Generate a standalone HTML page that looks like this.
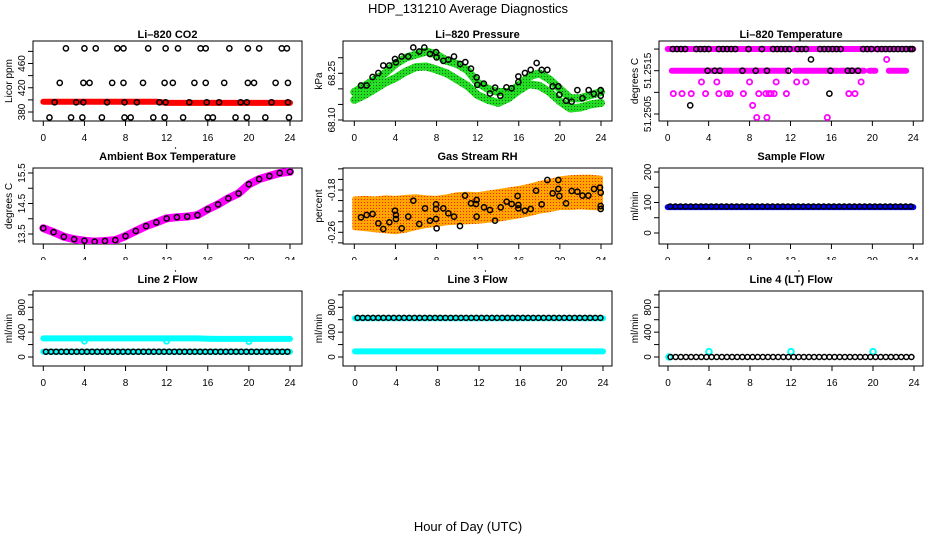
<!DOCTYPE html>
<html><head><meta charset="utf-8"><style>
html,body{margin:0;padding:0;background:#fff;}
svg{display:block;font-family:"Liberation Sans",Arial,sans-serif;}
</style></head><body>
<svg id="chart" width="936" height="540" viewBox="0 0 936 540" xmlns="http://www.w3.org/2000/svg">
<defs>
<pattern id="orangeDots" width="3" height="3" patternUnits="userSpaceOnUse"><rect width="3" height="3" fill="#ffa500"/><rect x="1" y="1" width="1" height="1" fill="#ff2200"/></pattern>
<pattern id="greenDots" width="3" height="3" patternUnits="userSpaceOnUse"><rect width="3" height="3" fill="#22dd22"/><rect x="1" y="1" width="1" height="1" fill="#116611"/></pattern>
</defs>
<rect x="0" y="0" width="936" height="540" fill="#fff"/>
<text x="468" y="13" text-anchor="middle" font-size="13">HDP_131210  Average Diagnostics</text>
<text x="468" y="531" text-anchor="middle" font-size="13">Hour of Day (UTC)</text>
</svg>
<script>
// ---------- data ----------
const xTickVals = [0,4,8,12,16,20,24];
const hours = [0,1,2,3,4,5,6,7,8,9,10,11,12,13,14,15,16,17,18,19,20,21,22,23,24];

// CO2
const co2RedVals = [397,397,397,397,397,397,397,397,397,397,397,397,395,395,395,395,395,395,395,395,395,395,395,395,395];
const co2BlackT = [2.2,4.0,5.1,7.2,7.8,10.2,11.9,13.1,15.3,15.8,18.1,19.9,21.0,23.2,23.7,
  1.6,3.9,4.5,6.7,7.8,9.7,11.8,12.6,14.7,15.8,17.6,19.9,20.5,22.6,23.8,
  1.1,3.2,3.9,6.2,7.9,9.1,11.3,11.9,14.2,15.9,17.1,19.2,19.8,22.2,23.8,
  0.6,2.7,3.8,5.7,7.9,8.5,10.7,11.8,13.6,16.0,16.5,18.7,19.8,21.6,23.9];
const co2BlackV = [485,485,485,485,485,485,485,485,485,485,485,485,485,485,485,
  428,428,428,428,428,428,428,428,428,428,428,428,428,428,428,
  396,396,396,396,396,396,396,396,396,396,396,396,396,396,396,
  371,371,371,371,371,371,371,371,371,371,371,371,371,371,371];
const co2Ticks = [380,400,420,440,460,480];
const co2Labels = ['380','','420','','460',''];

// Pressure
const presUpper = [68.19,68.21,68.23,68.25,68.28,68.30,68.31,68.32,68.31,68.29,68.28,68.26,68.22,68.20,68.19,68.19,68.21,68.24,68.25,68.23,68.20,68.17,68.17,68.18,68.19];
const presLower = [68.165,68.18,68.20,68.22,68.235,68.255,68.27,68.272,68.262,68.25,68.23,68.21,68.18,68.165,68.155,68.17,68.195,68.215,68.21,68.19,68.16,68.137,68.14,68.15,68.155];
const presBlackT = [0.65,1.2,1.78,2.34,2.82,3.4,3.96,4.05,4.6,5.25,5.74,6.32,6.81,7.36,7.95,8.0,8.66,9.15,9.7,10.3,10.8,11.35,11.9,11.97,12.6,13.2,13.7,14.2,14.8,15.3,15.96,15.96,16.6,17.16,17.74,18.23,18.78,19.3,19.85,19.95,20.6,21.15,21.7,22.2,22.8,23.3,23.97,23.97];
const presBlackV = [68.211,68.211,68.238,68.251,68.275,68.275,68.296,68.285,68.304,68.304,68.333,68.320,68.333,68.312,68.318,68.301,68.290,68.294,68.304,68.280,68.286,68.265,68.237,68.213,68.217,68.185,68.204,68.178,68.205,68.202,68.240,68.222,68.251,68.261,68.283,68.261,68.261,68.208,68.208,68.181,68.162,68.159,68.196,68.170,68.196,68.184,68.196,68.178];
const presTicks = [68.10,68.15,68.20,68.25,68.30];
const presLabels = ['68.10','','','68.25',''];

// Li-820 temperature
const tTopStart = [0.0];
const tTopEnd = [24.0];
const tMidStart = [0.4,9.8,12.4,16.8,19.7,21.6];
const tMidEnd = [9.6,11.6,16.6,19.2,20.3,23.3];
const tMagT = [21.4,3.3,4.8,8.0,10.6,12.6,13.5,18.9,0.55,1.4,2.3,3.7,5.0,5.8,6.1,7.4,8.9,9.6,9.9,10.1,10.4,11.6,17.7,18.3,8.3,8.7,9.7,15.6];
const tMagV = [51.25176,51.25124,51.25124,51.25124,51.25124,51.25124,51.25124,51.25124,51.25097,51.25097,51.25097,51.25097,51.25097,51.25097,51.25097,51.25097,51.25097,51.25097,51.25097,51.25097,51.25097,51.25097,51.25097,51.25097,51.2507,51.25042,51.25042,51.25042];
const tBlackT = [0.5,0.9,1.3,1.7,2.8,3.2,3.6,4.0,5.0,5.4,5.8,6.2,6.6,7.9,9.2,10.3,10.7,11.1,11.5,11.9,12.7,13.1,13.5,14.9,15.3,15.7,16.1,16.5,16.9,19.1,19.5,19.9,20.5,20.9,21.3,21.7,22.1,22.5,22.9,23.3,23.7,23.9,
  3.9,4.6,5.1,7.3,8.6,9.7,11.8,15.9,17.6,18.0,18.6,14.0,15.8,2.2];
const tBlackV = [51.252,51.252,51.252,51.252,51.252,51.252,51.252,51.252,51.252,51.252,51.252,51.252,51.252,51.252,51.252,51.252,51.252,51.252,51.252,51.252,51.252,51.252,51.252,51.252,51.252,51.252,51.252,51.252,51.252,51.252,51.252,51.252,51.252,51.252,51.252,51.252,51.252,51.252,51.252,51.252,51.252,51.252,
  51.2515,51.2515,51.2515,51.2515,51.2515,51.2515,51.2515,51.2515,51.2515,51.2515,51.2515,51.25176,51.25097,51.2507];
const tTicks = [51.2505,51.251,51.2515,51.252];
const tLabels = ['51.2505','','51.2515',''];

// Ambient box temperature
const ambVals = [13.69,13.56,13.41,13.33,13.28,13.25,13.27,13.30,13.43,13.60,13.76,13.88,14.01,14.05,14.07,14.12,14.31,14.47,14.67,14.83,15.13,15.30,15.40,15.50,15.54];
const ambTicks = [13.5,14.0,14.5,15.0,15.5];
const ambLabels = ['13.5','','14.5','','15.5'];

// Gas stream RH
const rhUpper = [-0.196,-0.195,-0.196,-0.194,-0.195,-0.193,-0.192,-0.194,-0.195,-0.192,-0.188,-0.187,-0.188,-0.185,-0.182,-0.179,-0.176,-0.172,-0.167,-0.163,-0.158,-0.156,-0.155,-0.155,-0.157];
const rhLower = [-0.252,-0.254,-0.256,-0.258,-0.260,-0.257,-0.252,-0.248,-0.246,-0.243,-0.242,-0.241,-0.240,-0.238,-0.236,-0.233,-0.230,-0.226,-0.221,-0.218,-0.214,-0.214,-0.213,-0.214,-0.215];
const rhBlackT = [0.65,1.2,1.78,2.34,2.82,3.41,3.96,4.05,4.05,4.61,5.25,5.74,6.32,6.88,7.36,7.95,7.95,7.95,8.01,8.66,9.15,9.7,10.28,10.77,11.35,11.84,11.9,11.9,12.62,13.2,13.69,14.24,14.82,15.31,15.89,15.96,15.96,16.6,17.16,17.68,18.23,18.78,19.3,19.85,19.85,19.95,20.6,21.15,21.7,22.2,22.77,23.32,23.9,23.97,23.97,23.97];
const rhBlackV = [-0.2317,-0.2273,-0.2254,-0.2430,-0.2537,-0.2411,-0.2191,-0.2273,-0.2348,-0.2525,-0.2304,-0.2002,-0.2443,-0.2147,-0.2380,-0.2071,-0.2159,-0.2348,-0.2525,-0.2147,-0.2241,-0.2304,-0.2481,-0.1907,-0.2052,-0.2065,-0.1989,-0.2304,-0.2128,-0.2178,-0.2380,-0.2128,-0.2021,-0.2065,-0.1913,-0.2147,-0.2084,-0.2191,-0.2159,-0.1813,-0.2071,-0.1611,-0.1863,-0.1611,-0.1781,-0.1913,-0.2052,-0.1819,-0.1832,-0.1907,-0.1907,-0.1781,-0.1756,-0.1850,-0.2103,-0.2159];
const rhTicks = [-0.28,-0.26,-0.24,-0.22,-0.20,-0.18,-0.16,-0.14];
const rhLabels = ['','-0.26','','','','-0.18','',''];

// Flows
const sampBlue = [85,85,85,85,85,85,85,85,85,85,85,85,85,85,85,85,85,85,85,85,85,85,85,85,85];
const sampBlack = [87,87,87,87,87,87,87,87,87,87,87,87,87,87,87,87,87,87,87,87,87,87,87,87,87,87,87,87,87,87,87,87,87,87,87,87,87,87,87,87,87,87,87,87,87,87,87,87];
const sampTicks = [0,50,100,150,200];
const sampLabels = ['0','','100','','200'];

const l2CyanHi = [300,300,300,300,300,300,300,300,300,300,300,300,300,300,300,300,295,292,292,292,292,292,292,292,292];
const l2CyanLo = [85,85,85,85,85,85,85,85,85,85,85,85,85,85,85,85,85,85,85,85,85,85,85,85,85];
const l2DipT = [4,12,20];
const l2DipV = [255,255,250];
const l2Black = [85,85,85,85,85,85,85,85,85,85,85,85,85,85,85,85,85,85,85,85,85,85,85,85,85,85,85,85,85,85,85,85,85,85,85,85,85,85,85,85,85,85,85,85,85,85,85,85];

const l3CyanHi = [625,625,625,625,625,625,625,625,625,625,625,625,625,625,625,625,625,625,625,625,625,625,625,625,625];
const l3CyanLo = [90,90,90,90,90,90,90,90,90,90,90,90,90,90,90,90,90,90,90,90,90,90,90,90,90];
const l3Black = [630,630,630,630,630,630,630,630,630,630,630,630,630,630,630,630,630,630,630,630,630,630,630,630,630,630,630,630,630,630,630,630,630,630,630,630,630,630,630,630,630,630,630,630,630,630,630,630];

const l4CyanT = [0.1,4,12,20];
const l4CyanV = [0,85,85,85];
const l4Black = [0,0,0,0,0,0,0,0,0,0,0,0,0,0,0,0,0,0,0,0,0,0,0,0,0,0,0,0,0,0,0,0,0,0,0,0,0,0,0,0,0,0,0,0,0,0,0,0];
const flowTicks = [0,200,400,600,800,1000];
const flowLabels = ['0','','400','','800',''];

// ---------- drawing ----------
const NS = 'http://www.w3.org/2000/svg';
const svg = document.getElementById('chart');
function mk(tag, attrs, parent){
  const e = document.createElementNS(NS, tag);
  for (const k in attrs) e.setAttribute(k, attrs[k]);
  (parent||svg).appendChild(e);
  return e;
}
const halfT = [];
for (let i=0;i<48;i++) halfT.push(0.25+0.5*i);

function makePanel(key, title, ylab, bx0, bx1, by0, by1, x0, x24, v1, p1, v2, p2, ticks, labels, titleY, showDot){
  const g = mk('g', {});
  
  
  const sx = t => x0 + (x24 - x0) * t / 24;
  const sy = v => p1 + (v - v1) * (p2 - p1) / (v2 - v1);
  const box = mk('rect', {x:bx0, y:by0, width:bx1-bx0, height:by1-by0, fill:'none', stroke:'#000', 'stroke-width':1}, g);
  
  
  const tt = mk('text', {x:(bx0+bx1)/2, y:titleY, 'text-anchor':'middle', 'font-size':11, 'font-weight':'bold'}, g);
  tt.textContent = title;
  
  
  if (showDot) {
    const d = mk('circle', {cx:(bx0+bx1)/2+8, cy:titleY-12, r:0.7, fill:'#000'}, g);
    
    
  }
  const yt = mk('text', {transform:'translate(' + (bx0-21) + ',' + ((by0+by1)/2) + ') rotate(-90)', 'text-anchor':'middle', 'font-size':10}, g);
  yt.textContent = ylab;
  
  
  const xa = mk('g', {}, g);
  
  
  mk('line', {x1:sx(0), x2:sx(24), y1:by1, y2:by1, stroke:'#000'}, xa);
  xTickVals.forEach(v => {
    mk('line', {x1:sx(v), x2:sx(v), y1:by1, y2:by1+5, stroke:'#000'}, xa);
    const tl = mk('text', {x:sx(v), y:by1+20, 'text-anchor':'middle', 'font-size':10}, xa);
    tl.textContent = String(v);
    
    
  });
  const ya = mk('g', {}, g);
  
  
  mk('line', {x1:bx0, x2:bx0, y1:sy(ticks[0]), y2:sy(ticks[ticks.length-1]), stroke:'#000'}, ya);
  ticks.forEach((v,i) => {
    mk('line', {x1:bx0-5, x2:bx0, y1:sy(v), y2:sy(v), stroke:'#000'}, ya);
    if (labels[i]) {
      const tl = mk('text', {transform:'translate(' + (bx0-8) + ',' + sy(v) + ') rotate(-90)', 'text-anchor':'middle', 'font-size':10}, ya);
      tl.textContent = labels[i];
      
      
    }
  });
  const clipId = 'clip-' + key;
  const cp = mk('clipPath', {id:clipId}, g);
  mk('rect', {x:bx0, y:by0, width:bx1-bx0, height:by1-by0}, cp);
  const plot = mk('g', {'clip-path':'url(#' + clipId + ')'}, g);
  
  
  return {g:plot, sx, sy, key};
}
function band(P, ts, vs, color, w, name){
  const pts = ts.map((t,i) => P.sx(t).toFixed(1) + ',' + P.sy(vs[i]).toFixed(1)).join(' ');
  const l = mk('polyline', {points:pts, fill:'none', stroke:color, 'stroke-width':w, 'stroke-linejoin':'round', 'stroke-linecap':'round'}, P.g);
  
  
}
function segs(P, starts, ends, v, color, w, name){
  starts.forEach((s,i) => {
    const l = mk('line', {x1:P.sx(s), x2:P.sx(ends[i]), y1:P.sy(v), y2:P.sy(v), stroke:color, 'stroke-width':w, 'stroke-linecap':'round'}, P.g);
    
    
  });
}
function pts(P, ts, vs, color, r, sw, name){
  ts.forEach((t,i) => {
    const c = mk('circle', {cx:P.sx(t), cy:P.sy(vs[i]), r:r, fill:'none', stroke:color, 'stroke-width':sw}, P.g);
    
    
  });
}
function area(P, ts, hi, lo, color, name){
  const top = ts.map((t,i) => P.sx(t).toFixed(1) + ',' + P.sy(hi[i]).toFixed(1));
  const bot = ts.map((t,i) => P.sx(t).toFixed(1) + ',' + P.sy(lo[i]).toFixed(1)).reverse();
  const p = mk('polygon', {points:top.concat(bot).join(' '), fill:color, stroke:color, 'stroke-width':4, 'stroke-linejoin':'round'}, P.g);
  
  
}

// Row 1
const p1 = makePanel('co2','Li\u2013820 CO2','Licor ppm',33,302,41,121,43.3,290,380,112,460,63.5,co2Ticks,co2Labels,38,false);
band(p1, hours, co2RedVals, '#ff0000', 6, 'co2-red-series');
pts(p1, co2BlackT, co2BlackV, '#000', 2.6, 1.5, 'co2-black-point');

const p2 = makePanel('pressure','Li\u2013820 Pressure','kPa',343,612,41,121,354.3,601,68.10,120,68.25,73.3,presTicks,presLabels,38,false);
band(p2, hours, presLower, 'url(#greenDots)', 8, 'pressure-green-lower');
band(p2, hours, presUpper, 'url(#greenDots)', 8, 'pressure-green-upper');
pts(p2, presBlackT, presBlackV, '#000', 2.6, 1.5, 'pressure-black-point');

const p3 = makePanel('temp','Li\u2013820 Temperature','degrees C',659,923,41,121,667.7,913.3,51.2505,114,51.2515,70.7,tTicks,tLabels,38,false);
segs(p3, tTopStart, tTopEnd, 51.252, '#ff00ff', 6, 'temp-magenta-top');
segs(p3, tMidStart, tMidEnd, 51.2515, '#ff00ff', 6, 'temp-magenta-mid');
pts(p3, tMagT, tMagV, '#ff00ff', 2.6, 1.8, 'temp-magenta-point');
pts(p3, tBlackT, tBlackV, '#000', 2.6, 1.5, 'temp-black-point');

// Row 2
const p4 = makePanel('ambient','Ambient Box Temperature','degrees C',33,302,168,244,43.3,290,13.5,234,15.5,173,ambTicks,ambLabels,160,true);
band(p4, hours, ambVals, '#ff00ff', 8, 'ambient-magenta-series');
pts(p4, hours, ambVals, '#000', 2.6, 1.5, 'ambient-black-point');

const p5 = makePanel('rh','Gas Stream RH','percent',343,612,168,244,354.3,601,-0.26,232.3,-0.18,190,rhTicks,rhLabels,160,false);
area(p5, hours, rhUpper, rhLower, 'url(#orangeDots)', 'rh-orange-band');
pts(p5, rhBlackT, rhBlackV, '#000', 2.6, 1.5, 'rh-black-point');

const p6 = makePanel('sample','Sample Flow','ml/min',659,923,168,244,667.7,913.3,0,233,200,172,sampTicks,sampLabels,160,false);
band(p6, hours, sampBlue, '#0000ff', 6, 'sample-blue-series');
pts(p6, halfT, sampBlack, '#000', 2.5, 1.5, 'sample-black-point');

const cover = mk('rect', {x:0, y:260, width:936, height:8, fill:'#fff'});



// Row 3
const p7 = makePanel('line2','Line 2 Flow','ml/min',33,302,291,366,43.3,290,0,357,800,307.3,flowTicks,flowLabels,283,true);
band(p7, hours, l2CyanHi, '#00ffff', 6, 'line2-cyan-high');
band(p7, hours, l2CyanLo, '#00ffff', 6, 'line2-cyan-low');
pts(p7, l2DipT, l2DipV, '#00ffff', 2.6, 1.8, 'line2-cyan-point');
pts(p7, halfT, l2Black, '#000', 2.5, 1.5, 'line2-black-point');

const p8 = makePanel('line3','Line 3 Flow','ml/min',343,612,291,366,355,603,0,357,800,307.3,flowTicks,flowLabels,283,true);
band(p8, hours, l3CyanHi, '#00ffff', 6, 'line3-cyan-high');
band(p8, hours, l3CyanLo, '#00ffff', 6, 'line3-cyan-low');
pts(p8, halfT, l3Black, '#000', 2.5, 1.5, 'line3-black-point');

const p9 = makePanel('line4','Line 4 (LT) Flow','ml/min',659,923,291,366,668,914,0,357,800,307.3,flowTicks,flowLabels,283,true);
pts(p9, l4CyanT, l4CyanV, '#00ffff', 2.8, 2, 'line4-cyan-point');
pts(p9, halfT, l4Black, '#000', 2.5, 1.5, 'line4-black-point');
</script>
</body></html>
